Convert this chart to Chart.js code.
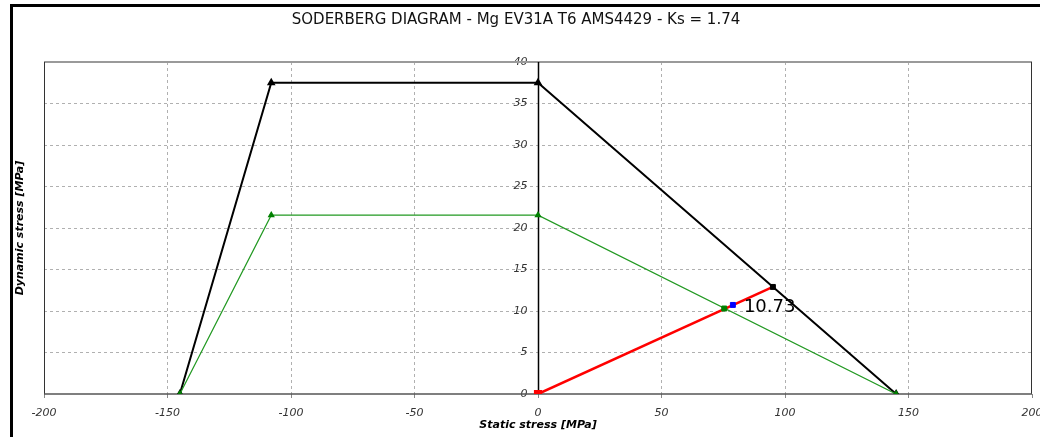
<!DOCTYPE html>
<html>
<head>
<meta charset="utf-8">
<script src="https://cdn.jsdelivr.net/npm/chart.js@4.4.1/dist/chart.umd.min.js"></script>
<style>
    html, body { margin: 0; padding: 0; background: #fff; }
    #wrap { position: relative; width: 1040px; height: 437px; }
    #frame-top { position: absolute; left: 10px; top: 4px; width: 1030px; height: 3px; background: #000; }
    #frame-left { position: absolute; left: 10px; top: 4px; width: 3px; height: 433px; background: #000; }
    canvas { position: absolute; left: 0; top: 0; }
</style>
</head>
<body>
<div id="wrap">
    <canvas id="chart" width="1040" height="437"></canvas>
    <div id="frame-top"></div>
    <div id="frame-left"></div>
</div>
<script>
// Diagram vertices (static stress, dynamic stress) in MPa
const limitLine = [[-145, 0], [-108, 37.5], [0, 37.5], [145, 0]];
const safeLine = [[-145, 0], [-108, 21.55], [0, 21.55], [145, 0]];
const loadLine = [[0, 0], [95.1, 12.9]];
const limitPoint = [[95.1, 12.9]];
const safePoint = [[75.4, 10.3]];
const workPoint = [[78.9, 10.73]];
const workLabel = '10.73';

const xTicks = [-200, -150, -100, -50, 0, 50, 100, 150, 200];
const yTicks = [0, 5, 10, 15, 20, 25, 30, 35, 40];

const toXY = arr => arr.map(p => ({ x: p[0], y: p[1] }));

const FONT = '"DejaVu Sans", Verdana, sans-serif';

// Frame around the plot area, the solid x = 0 axis and the value label
const framePlugin = {
    id: 'framePlugin',
    beforeDatasetsDraw(chart) {
        const { ctx, chartArea: a, scales } = chart;
        ctx.save();
        ctx.lineWidth = 2;
        ctx.strokeStyle = '#9a9a9a';
        ctx.beginPath();
        ctx.moveTo(a.left, a.top);
        ctx.lineTo(a.right, a.top);
        ctx.stroke();
        ctx.lineWidth = 1;
        ctx.strokeStyle = '#333';
        ctx.beginPath();
        ctx.moveTo(a.left + 0.5, a.top);
        ctx.lineTo(a.left + 0.5, a.bottom);
        ctx.moveTo(a.right - 0.5, a.top);
        ctx.lineTo(a.right - 0.5, a.bottom);
        ctx.stroke();
        // y axis crossing at static stress 0
        const x0 = Math.round(scales.x.getPixelForValue(0)) + 0.5;
        ctx.strokeStyle = '#000';
        ctx.lineWidth = 1.5;
        ctx.beginPath();
        ctx.moveTo(x0, a.top);
        ctx.lineTo(x0, a.bottom);
        ctx.stroke();
        ctx.strokeStyle = '#555';
        ctx.lineWidth = 1.5;
        ctx.beginPath();
        ctx.moveTo(a.left, a.bottom);
        ctx.lineTo(a.right, a.bottom);
        ctx.stroke();
        ctx.restore();
    },
    afterDatasetsDraw(chart) {
        const { ctx, scales } = chart;
        const px = scales.x.getPixelForValue(workPoint[0][0]);
        const py = scales.y.getPixelForValue(workPoint[0][1]);
        ctx.save();
        ctx.font = '18px ' + FONT;
        ctx.fillStyle = '#000';
        ctx.textBaseline = 'alphabetic';
        ctx.fillText(workLabel, px + 11, py + 7);
        ctx.restore();
    }
};

const gridColor = (edges) => (c) => {
    const v = c.tick ? c.tick.value : null;
    return edges.includes(v) ? 'rgba(0,0,0,0)' : '#b0b0b0';
};

new Chart(document.getElementById('chart'), {
    type: 'scatter',
    data: {
        datasets: [
            {
                label: 'work',
                data: toXY(workPoint),
                pointStyle: 'rect',
                pointRadius: 3.5,
                backgroundColor: '#0000ff',
                borderColor: '#0000ff',
                showLine: false
            },
            {
                label: 'safe point',
                data: toXY(safePoint),
                pointStyle: 'rect',
                pointRadius: 3.5,
                backgroundColor: '#008000',
                borderColor: '#008000',
                showLine: false
            },
            {
                label: 'limit point',
                data: toXY(limitPoint),
                pointStyle: 'rect',
                pointRadius: 3.5,
                backgroundColor: '#000',
                borderColor: '#000',
                showLine: false
            },
            {
                label: 'load',
                data: toXY(loadLine),
                showLine: true,
                borderColor: '#ff0000',
                borderWidth: 2.5,
                pointStyle: 'rect',
                pointRadius: [4, 0],
                backgroundColor: '#ff0000'
            },
            {
                label: 'safe',
                data: toXY(safeLine),
                showLine: true,
                borderColor: '#229922',
                borderWidth: 1.2,
                pointStyle: 'triangle',
                pointRadius: 3,
                backgroundColor: '#008000',
                pointBorderColor: '#008000'
            },
            {
                label: 'limit',
                data: toXY(limitLine),
                showLine: true,
                borderColor: '#000',
                borderWidth: 2,
                pointStyle: 'triangle',
                pointRadius: 3,
                backgroundColor: '#000',
                pointBorderColor: '#000'
            }
        ]
    },
    options: {
        responsive: false,
        animation: false,
        layout: { padding: { left: 0, right: 8, top: 0, bottom: 0 } },
        plugins: {
            legend: { display: false },
            tooltip: { enabled: false },
            title: {
                display: true,
                text: 'SODERBERG DIAGRAM - Mg EV31A T6 AMS4429 - Ks = 1.74',
                color: '#111',
                font: { family: FONT, size: 15, weight: 'normal' },
                padding: { top: 11, bottom: 33 }
            }
        },
        scales: {
            x: {
                type: 'linear',
                position: 'bottom',
                min: -200,
                max: 200,
                afterBuildTicks: s => { s.ticks = xTicks.map(v => ({ value: v })); },
                afterFit: s => { s.height = 43; s.paddingLeft = 0; s.paddingRight = 0; },
                ticks: {
                    color: '#333',
                    font: { family: FONT, size: 11, style: 'italic' },
                    padding: 9,
                    maxRotation: 0
                },
                grid: {
                    color: gridColor([-200, 0, 200]),
                    tickColor: '#888',
                    tickLength: 4,
                    drawOnChartArea: true
                },
                border: { display: false, dash: [3, 3] },
                title: {
                    display: true,
                    text: 'Static stress [MPa]',
                    color: '#000',
                    font: { family: FONT, size: 11, style: 'italic', weight: 'bold' },
                    padding: { top: 0, bottom: 5 }
                }
            },
            y: {
                type: 'linear',
                position: { x: 0 },
                min: 0,
                max: 40,
                afterBuildTicks: s => { s.ticks = yTicks.map(v => ({ value: v })); },
                ticks: {
                    color: '#333',
                    font: { family: FONT, size: 11, style: 'italic' },
                    padding: 0,
                    // labels sit a little to the left of the x = 0 axis
                    callback: v => v + '   '
                },
                grid: {
                    color: gridColor([0, 40]),
                    drawTicks: false
                },
                border: { display: false, dash: [3, 3] },
                title: { display: false }
            },
            yt: {
                type: 'linear',
                position: 'left',
                min: 0,
                max: 40,
                afterFit: s => { s.width = 44; },
                ticks: { display: false },
                grid: { display: false },
                border: { display: false },
                title: {
                    display: true,
                    text: 'Dynamic stress [MPa]',
                    color: '#000',
                    font: { family: FONT, size: 11, style: 'italic', weight: 'bold' },
                    padding: { top: 14, bottom: 0 }
                }
            }
        }
    },
    plugins: [framePlugin]
});
</script>
</body>
</html>
